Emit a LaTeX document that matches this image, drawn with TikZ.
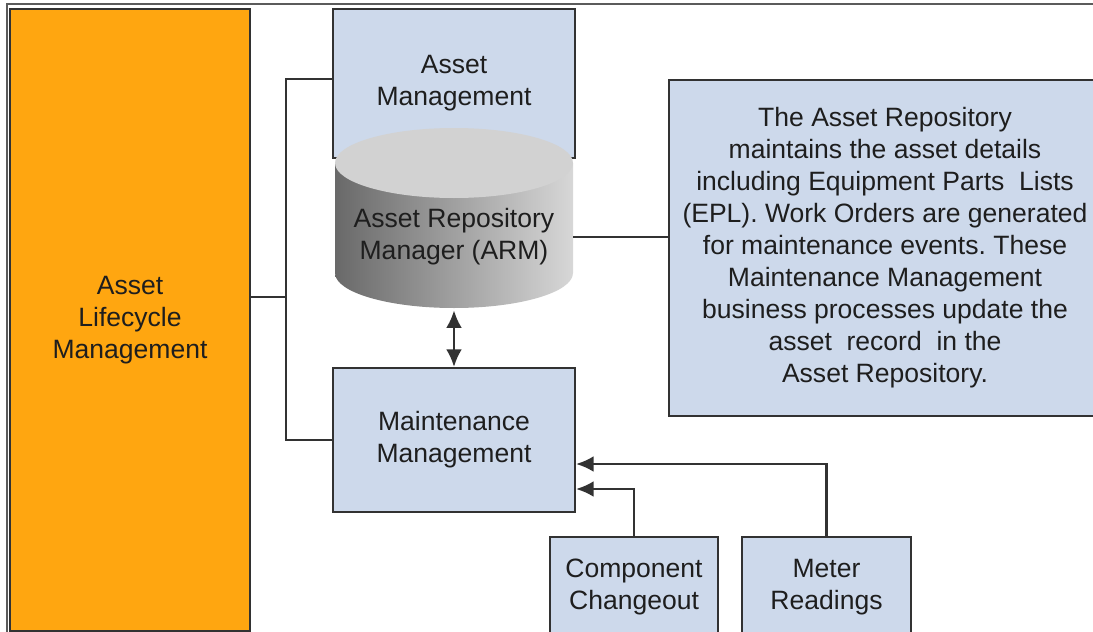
\documentclass[tikz,border=0pt]{standalone}
\usepackage{fontspec}
\setmainfont{Liberation Sans}
\usetikzlibrary{arrows.meta}
\frenchspacing

\definecolor{almorange}{RGB}{255,166,16}
\definecolor{boxblue}{RGB}{205,217,235}
\definecolor{edgegray}{RGB}{50,50,50}
\definecolor{textgray}{RGB}{30,30,30}
\definecolor{cyldark}{RGB}{105,105,105}
\definecolor{cyllight}{RGB}{215,215,215}
\definecolor{cyltop}{RGB}{210,210,210}

\def\cylx{454}
\def\cylrx{119}
\def\cylry{35}

\begin{document}
\begin{tikzpicture}[x=0.02cm,y=-0.02cm,>={Latex[length=10pt,width=9pt]},
  box/.style={draw=edgegray,line width=1.2pt,fill=boxblue,align=center,
    text=textgray,font=\fontsize{15.1}{18.2}\selectfont},
  link/.style={draw=edgegray,line width=1.4pt}]
\clip (0,0) rectangle (1093,632);
\draw[color=edgegray!80,line width=0.9pt] (7,640)--(7,4)--(1100,4);

\node[box,fill=almorange,minimum width=4.8cm,minimum height=12.44cm] (alm) at (130,320)
  {Asset\\Lifecycle\\Management};
\node[box,minimum width=4.84cm,minimum height=2.98cm] (am) at (454,83.5)
  {Asset\\Management};

% repository cylinder
\shade[left color=cyldark,right color=cyllight]
  ({\cylx-\cylrx},163)--({\cylx-\cylrx},273)
  arc[start angle=180,end angle=0,x radius=\cylrx,y radius=\cylry]
  --({\cylx+\cylrx},163)--cycle;
\fill[color=cyltop] (\cylx,163) ellipse[x radius=\cylrx,y radius=\cylry];
\node[align=center,text=textgray,font=\fontsize{15.1}{18.2}\selectfont,
  minimum width=4.76cm,minimum height=2.92cm] (arm) at (\cylx,237)
  {Asset Repository\\Manager (ARM)};

\node[box,minimum width=4.84cm,minimum height=2.88cm] (mm) at (454,440)
  {Maintenance\\Management};
\node[box,minimum width=3.36cm,minimum height=2cm] (cc) at (634,587)
  {Component\\Changeout};
\node[box,minimum width=3.38cm,minimum height=2cm] (mr) at (826.5,587)
  {Meter\\Readings};
\node[box,minimum width=8.64cm,minimum height=6.72cm] (note) at (885,248)
  {The Asset Repository\\
   maintains the asset details\\
   including Equipment Parts~ Lists\\
   (EPL). Work Orders are generated\\
   for maintenance events. These\\
   Maintenance Management\\
   business processes update the\\
   asset~ record~ in the\\
   Asset Repository.};

\coordinate (bus) at (286,297);
\draw[link] (bus -| alm.east)--(bus);
\draw[link] (am.west |- 0,79) -| (bus) |- (mm.west);
\draw[link] (arm.east) -- (arm.east -| note.west);
\draw[link,<->] (arm.south) -- (mm.north);
\draw[link,->] (mr.north) |- (mm.east |- 0,464);
\draw[link,->] (cc.north) |- (mm.east |- 0,489);

\end{tikzpicture}
\end{document}
